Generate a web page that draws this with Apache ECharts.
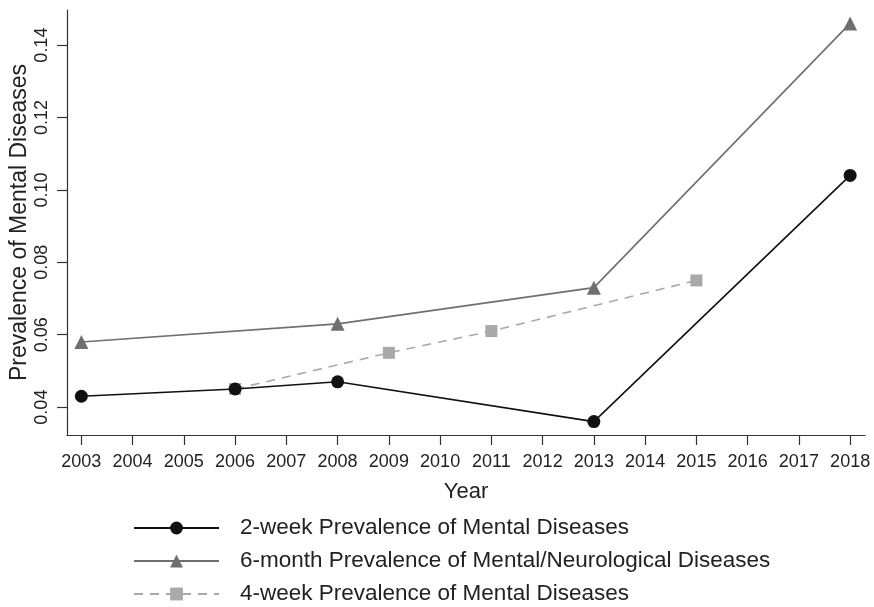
<!DOCTYPE html>
<html>
<head>
<meta charset="utf-8">
<script src="https://cdn.jsdelivr.net/npm/echarts@6/dist/echarts.min.js"></script>
<style>
  html, body { margin: 0; padding: 0; background: #fff; }
  #chart { width: 874px; height: 607px; }
</style>
</head>
<body>
<div id="chart"></div>
<script>
// Survey years shown on the x-axis
const yearTicks = [2003, 2004, 2005, 2006, 2007, 2008, 2009, 2010, 2011, 2012, 2013, 2014, 2015, 2016, 2017, 2018];
const yTicks = [0.04, 0.06, 0.08, 0.10, 0.12, 0.14];

// Prevalence series
const twoWeekYears = [2003, 2006, 2008, 2013, 2018];
const twoWeekValues = [0.043, 0.045, 0.047, 0.036, 0.104];

const sixMonthYears = [2003, 2008, 2013, 2018];
const sixMonthValues = [0.058, 0.063, 0.073, 0.146];

const fourWeekYears = [2006, 2009, 2011, 2015];
const fourWeekValues = [0.045, 0.055, 0.061, 0.075];

const seriesNames = [
  '2-week Prevalence of Mental Diseases',
  '6-month Prevalence of Mental/Neurological Diseases',
  '4-week Prevalence of Mental Diseases'
];

const pairs = (xs, ys) => xs.map((x, i) => [x, ys[i]]);
const font = 'Liberation Sans, Arial, sans-serif';

const chart = echarts.init(document.getElementById('chart'), null, { renderer: 'canvas' });
chart.setOption({
  animation: false,
  backgroundColor: '#fff',
  grid: { left: 67, right: 9, top: 10, bottom: 172, containLabel: false, outerBoundsMode: 'none' },
  xAxis: {
    type: 'value',
    min: 2002.72,
    max: 2018.29,
    name: 'Year',
    nameLocation: 'middle',
    nameGap: 46,
    nameMoveOverlap: false,
    nameTextStyle: { fontFamily: font, fontSize: 22, color: '#222' },
    axisLine: { show: true, lineStyle: { color: '#333', width: 1.2 } },
    axisTick: { show: true, length: 10, customValues: yearTicks, lineStyle: { color: '#333', width: 1.2 } },
    axisLabel: {
      customValues: yearTicks, margin: 18, fontFamily: font, fontSize: 18, color: '#222',
      formatter: v => String(v)
    },
    splitLine: { show: false }
  },
  yAxis: {
    type: 'value',
    min: 0.0323,
    max: 0.1497,
    name: 'Prevalence of Mental Diseases',
    nameLocation: 'middle',
    nameGap: 36,
    nameMoveOverlap: false,
    nameRotate: 90,
    nameTextStyle: { fontFamily: font, fontSize: 23, color: '#222' },
    axisLine: { show: true, lineStyle: { color: '#333', width: 1.2 } },
    axisTick: { show: true, length: 10, customValues: yTicks, lineStyle: { color: '#333', width: 1.2 } },
    axisLabel: {
      customValues: yTicks, rotate: 90, margin: 16, fontFamily: font, fontSize: 18, color: '#222',
      formatter: v => v.toFixed(2)
    },
    splitLine: { show: false }
  },
  legend: {
    orient: 'vertical',
    left: 133,
    top: 515,
    height: 92,
    padding: 0,
    itemWidth: 85,
    itemHeight: 16,
    itemGap: 7,
    textStyle: { fontFamily: font, fontSize: 22.5, lineHeight: 26, color: '#222', padding: [0, 0, 0, 16] },
    data: seriesNames
  },
  series: [
    {
      name: seriesNames[0],
      type: 'line',
      data: pairs(twoWeekYears, twoWeekValues),
      symbol: 'circle',
      symbolSize: 13,
      itemStyle: { color: '#111' },
      lineStyle: { color: '#111', width: 1.6 },
      z: 3
    },
    {
      name: seriesNames[1],
      type: 'line',
      data: pairs(sixMonthYears, sixMonthValues),
      symbol: 'triangle',
      symbolSize: 14,
      itemStyle: { color: '#6f6f6f' },
      lineStyle: { color: '#6f6f6f', width: 1.6 },
      z: 2
    },
    {
      name: seriesNames[2],
      type: 'line',
      data: pairs(fourWeekYears, fourWeekValues),
      symbol: 'rect',
      symbolSize: 12,
      itemStyle: { color: '#a9a9a9' },
      lineStyle: { color: '#a9a9a9', width: 1.6, type: [9, 7] },
      z: 1
    }
  ]
});
</script>
</body>
</html>
